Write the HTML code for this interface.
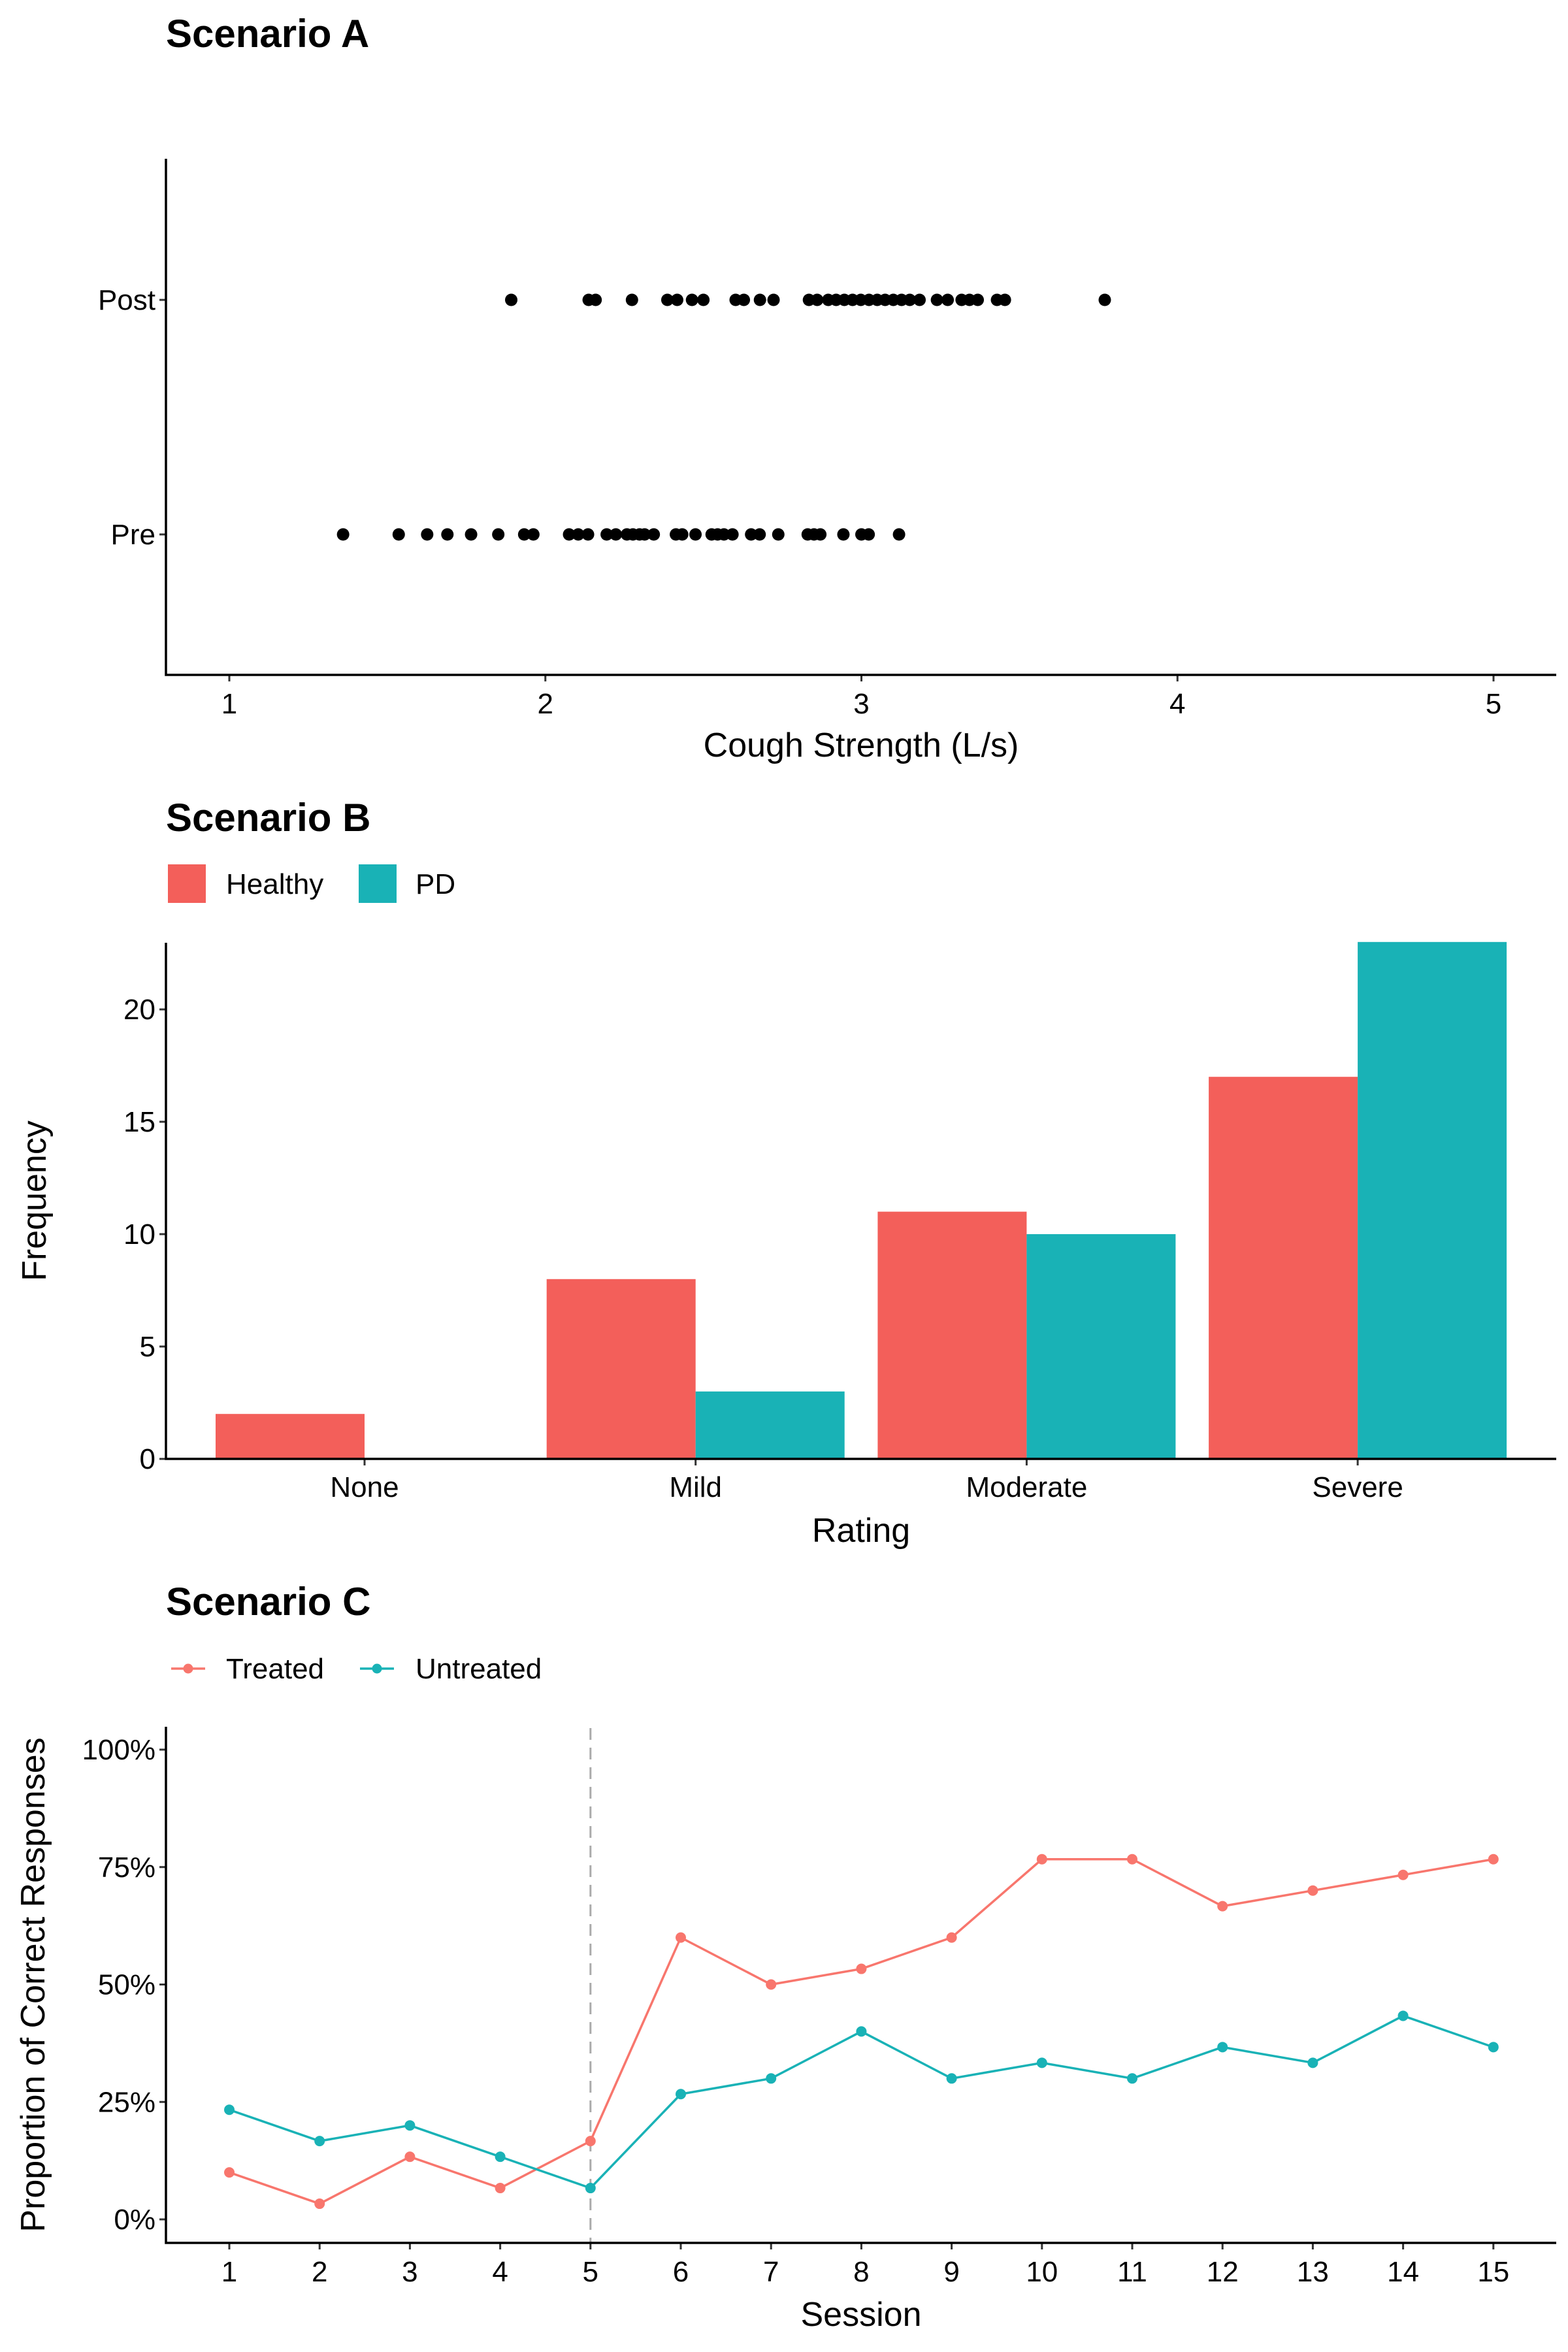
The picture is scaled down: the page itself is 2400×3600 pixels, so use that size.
<!DOCTYPE html>
<html><head><meta charset="utf-8"><style>
html,body{margin:0;padding:0;background:#fff;}
svg{display:block;font-family:"Liberation Sans",Arial,sans-serif;}
</style></head><body>
<svg id="fig" width="2400" height="3600" viewBox="0 0 2400 3600" xmlns="http://www.w3.org/2000/svg">
<g id="pA"></g>
<g id="pB"></g>
<g id="pC"></g>
</svg>
<script>
// Scenario A data
const preValues = [1.36,1.536,1.626,1.69,1.765,1.851,1.933,1.962,2.075,2.104,2.135,2.194,2.223,2.258,2.277,2.298,2.314,2.343,2.413,2.433,2.475,2.526,2.545,2.565,2.592,2.651,2.678,2.737,2.83,2.85,2.87,2.943,3.0,3.023,3.119];
const postValues = [1.892,2.137,2.159,2.274,2.386,2.417,2.464,2.5,2.602,2.628,2.679,2.722,2.834,2.86,2.895,2.92,2.946,2.972,2.998,3.024,3.05,3.075,3.101,3.127,3.153,3.184,3.239,3.273,3.317,3.342,3.368,3.429,3.454,3.77];
const xTicksA = [1,2,3,4,5];
const groupsA = ["Pre","Post"];
// Scenario B data
const ratingCats = ["None","Mild","Moderate","Severe"];
const healthyVals = [2,8,11,17];
const pdVals = [0,3,10,23];
const yTicksB = [0,5,10,15,20];
// Scenario C data
const sessions = [1,2,3,4,5,6,7,8,9,10,11,12,13,14,15];
const treatedVals = [10,3.33,13.33,6.67,16.67,60,50,53.33,60,76.67,76.67,66.67,70,73.33,76.67];
const untreatedVals = [23.33,16.67,20,13.33,6.67,26.67,30,40,30,33.33,30,36.67,33.33,43.33,36.67];
const yTicksC = [0,25,50,75,100];
const phaseChange = 5;

const NS="http://www.w3.org/2000/svg";
function mk(parent,tag,attrs,text){const e=document.createElementNS(NS,tag);for(const k in attrs)e.setAttribute(k,attrs[k]);if(text!==undefined)e.textContent=text;parent.appendChild(e);return e;}
const RED="#F8766D", RED2="#F35F5A", TEAL="#19B2B6";
const L=254, R=2382;
const TF=44, AF=52, HF=60, LF=44;

// ---------- Panel A ----------
(function(){
const g=document.getElementById('pA');
const x=v=>351+(v-1)*483.75;
const y=i=>[818,459][i];
let t=mk(g,'text',{x:L,y:72,'font-size':HF,'font-weight':'bold'},'Scenario A');


[preValues,postValues].forEach((arr,gi)=>{
  arr.forEach(v=>{
    const c=mk(g,'circle',{cx:x(v),cy:y(gi),r:9.5,fill:'#000'});
    
    
  });
  const tk=mk(g,'line',{x1:L-10,x2:L,y1:y(gi),y2:y(gi),stroke:'#333','stroke-width':3});
  
  
  const lb=mk(g,'text',{x:L-16,y:y(gi)+15,'font-size':TF,'text-anchor':'end'},groupsA[gi]);
  
  
});
xTicksA.forEach(v=>{
  const tk=mk(g,'line',{x1:x(v),x2:x(v),y1:1033,y2:1043,stroke:'#333','stroke-width':3});
  
  
  const lb=mk(g,'text',{x:x(v),y:1092,'font-size':TF,'text-anchor':'middle'},String(v));
  
  
});
const ax=mk(g,'path',{d:`M${L} 243 V1033 H${R}`,fill:'none',stroke:'#000','stroke-width':3.5});


const xt=mk(g,'text',{x:1318,y:1158,'font-size':AF,'text-anchor':'middle'},'Cough Strength (L/s)');


})();

// ---------- Panel B ----------
(function(){
const g=document.getElementById('pB');
const base=2233, per=34.4;
const y=v=>base-v*per;
const cx=i=>558+i*506.7;
const bw=228;
let t=mk(g,'text',{x:L,y:1272,'font-size':HF,'font-weight':'bold'},'Scenario B');


let k=mk(g,'rect',{x:257,y:1323,width:58,height:59,fill:RED2});


let lt=mk(g,'text',{x:346,y:1368,'font-size':LF},'Healthy');


k=mk(g,'rect',{x:549,y:1323,width:58,height:59,fill:TEAL});


lt=mk(g,'text',{x:636,y:1368,'font-size':LF},'PD');


ratingCats.forEach((c,i)=>{
  const h=mk(g,'rect',{x:cx(i)-bw,y:y(healthyVals[i]),width:bw,height:base-y(healthyVals[i]),fill:RED2});
  
  
  const p=mk(g,'rect',{x:cx(i),y:y(pdVals[i]),width:bw,height:base-y(pdVals[i]),fill:TEAL});
  
  
  const tk=mk(g,'line',{x1:cx(i),x2:cx(i),y1:base,y2:base+10,stroke:'#333','stroke-width':3});
  
  
  const lb=mk(g,'text',{x:cx(i),y:base+58,'font-size':TF,'text-anchor':'middle'},c);
  
  
});
yTicksB.forEach(v=>{
  const tk=mk(g,'line',{x1:L-10,x2:L,y1:y(v),y2:y(v),stroke:'#333','stroke-width':3});
  
  
  const lb=mk(g,'text',{x:L-16,y:y(v)+15,'font-size':TF,'text-anchor':'end'},String(v));
  
  
});
const ax=mk(g,'path',{d:`M${L} 1443 V${base} H${R}`,fill:'none',stroke:'#000','stroke-width':3.5});


const xt=mk(g,'text',{x:1318,y:2360,'font-size':AF,'text-anchor':'middle'},'Rating');


const yt=mk(g,'text',{x:0,y:0,'font-size':AF,'text-anchor':'middle',transform:'translate(70,1838) rotate(-90)'},'Frequency');


})();

// ---------- Panel C ----------
(function(){
const g=document.getElementById('pC');
const x=s=>351+(s-1)*138.2;
const y=v=>3397-v*7.19;
let t=mk(g,'text',{x:L,y:2472,'font-size':HF,'font-weight':'bold'},'Scenario C');


[[RED,'Treated',262,346],[TEAL,'Untreated',551,636]].forEach(([col,name,kx,tx])=>{
  const l=mk(g,'line',{x1:kx,x2:kx+52,y1:2554,y2:2554,stroke:col,'stroke-width':3.5});
  
  
  mk(g,'circle',{cx:kx+26,cy:2554,r:7.5,fill:col});
  const lt=mk(g,'text',{x:tx,y:2569,'font-size':LF},name);
  
  
});
const dl=mk(g,'line',{x1:x(phaseChange),x2:x(phaseChange),y1:2645,y2:3433,stroke:'#aaa','stroke-width':3,'stroke-dasharray':'18,12'});


[[treatedVals,RED,'treated'],[untreatedVals,TEAL,'untreated']].forEach(([arr,col,name])=>{
  const pl=mk(g,'polyline',{points:arr.map((v,i)=>x(sessions[i])+','+y(v)).join(' '),fill:'none',stroke:col,'stroke-width':3.5});
  
  
  arr.forEach((v,i)=>{
    const c=mk(g,'circle',{cx:x(sessions[i]),cy:y(v),r:8,fill:col});
    
    
  });
});
sessions.forEach(s=>{
  const tk=mk(g,'line',{x1:x(s),x2:x(s),y1:3433,y2:3443,stroke:'#333','stroke-width':3});
  
  
  const lb=mk(g,'text',{x:x(s),y:3492,'font-size':TF,'text-anchor':'middle'},String(s));
  
  
});
yTicksC.forEach(v=>{
  const tk=mk(g,'line',{x1:L-10,x2:L,y1:y(v),y2:y(v),stroke:'#333','stroke-width':3});
  
  
  const lb=mk(g,'text',{x:L-16,y:y(v)+15,'font-size':TF,'text-anchor':'end'},v+'%');
  
  
});
const ax=mk(g,'path',{d:`M${L} 2643 V3433 H${R}`,fill:'none',stroke:'#000','stroke-width':3.5});


const xt=mk(g,'text',{x:1318,y:3560,'font-size':AF,'text-anchor':'middle'},'Session');


const yt=mk(g,'text',{x:0,y:0,'font-size':AF,'text-anchor':'middle',transform:'translate(68,3038) rotate(-90)'},'Proportion of Correct Responses');


})();
</script>
</body></html>
